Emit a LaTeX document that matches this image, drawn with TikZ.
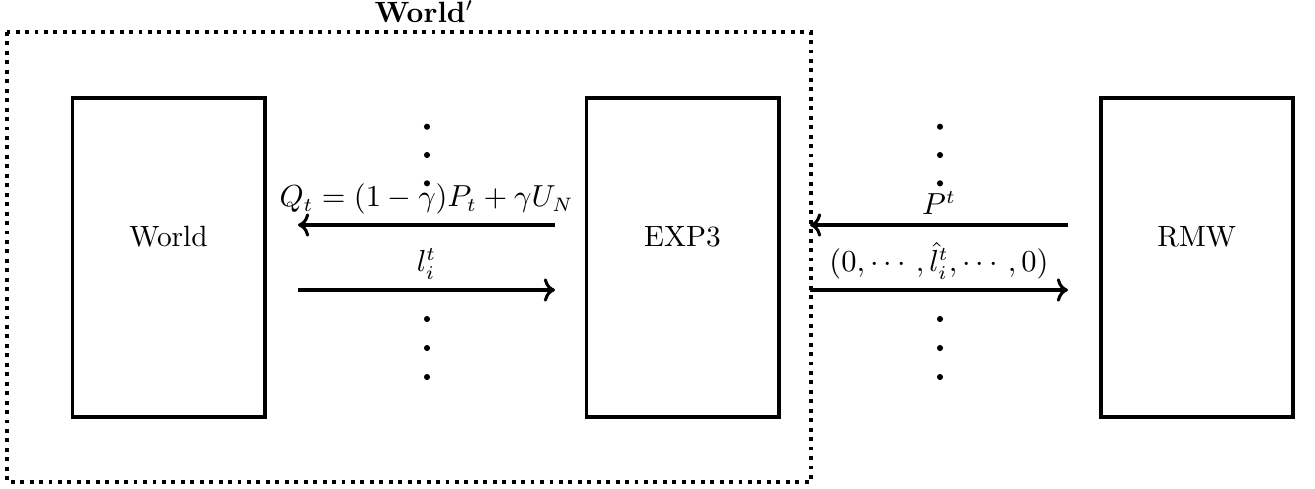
\documentclass[tikz,border=0pt]{standalone}
\usetikzlibrary{arrows.meta}
\tikzset{
  every node/.style={font=\fontsize{10.55pt}{12.7pt}\selectfont},
  blockbox/.style={draw, line width=1.4pt, minimum width=69.1pt, minimum height=114.7pt, inner sep=0pt, text height=7.2pt, text depth=14.8pt},
  flowarrow/.style={->, line width=1.1pt},
  framebox/.style={draw, line width=1.4pt, dash pattern=on 1.4pt off 2pt},
  dotmark/.style={circle, fill, inner sep=0pt, minimum size=2.2pt},
}
\begin{document}
\begin{tikzpicture}[x=0.3597pt, y=-0.3597pt]
\useasboundingbox (0,0) rectangle (1315,488);
% frame
\coordinate (fa) at (7,32);
\coordinate (fb) at (811,482);
\draw[framebox] (fa) rectangle (fb);
\node[anchor=base] (title) at (424,22.5) {\textbf{World$'$}};
% blocks
\node[blockbox] (world) at (168.5,257.5) {World};
\node[blockbox] (exp) at (682.5,257.5) {EXP3};
\node[blockbox] (rmw) at (1196.75,257.5) {RMW};
% arrows
\coordinate (a1s) at (555,225);
\coordinate (a1e) at (298,225);
\coordinate (a2s) at (298,290);
\coordinate (a2e) at (555,290);
\coordinate (b1s) at (1068,225);
\coordinate (b1e) at (810,225);
\coordinate (b2s) at (810,290);
\coordinate (b2e) at (1068,290);
\draw[flowarrow] (a1s) -- node[above] (lq) {$Q_t = (1-\gamma)P_t + \gamma U_N$} (a1e);
\draw[flowarrow] (a2s) -- node[above] (ll) {$l_i^t$} (a2e);
\draw[flowarrow] (b1s) -- node[above] (lp) {$P^t$} (b1e);
\draw[flowarrow] (b2s) -- node[above] (lv) {$(0,\cdots\,,\hat{l}_i^t,\cdots\,,0)$} (b2e);
% dots
\foreach \xx/\nm in {427/l, 940/r}{
  \foreach \yy/\k in {126.7/1, 155/2, 183.3/3, 319/4, 348/5, 377/6}{
    \node[dotmark] (d\nm\k) at (\xx,\yy) {};
  }
}
\end{tikzpicture}
\end{document}
